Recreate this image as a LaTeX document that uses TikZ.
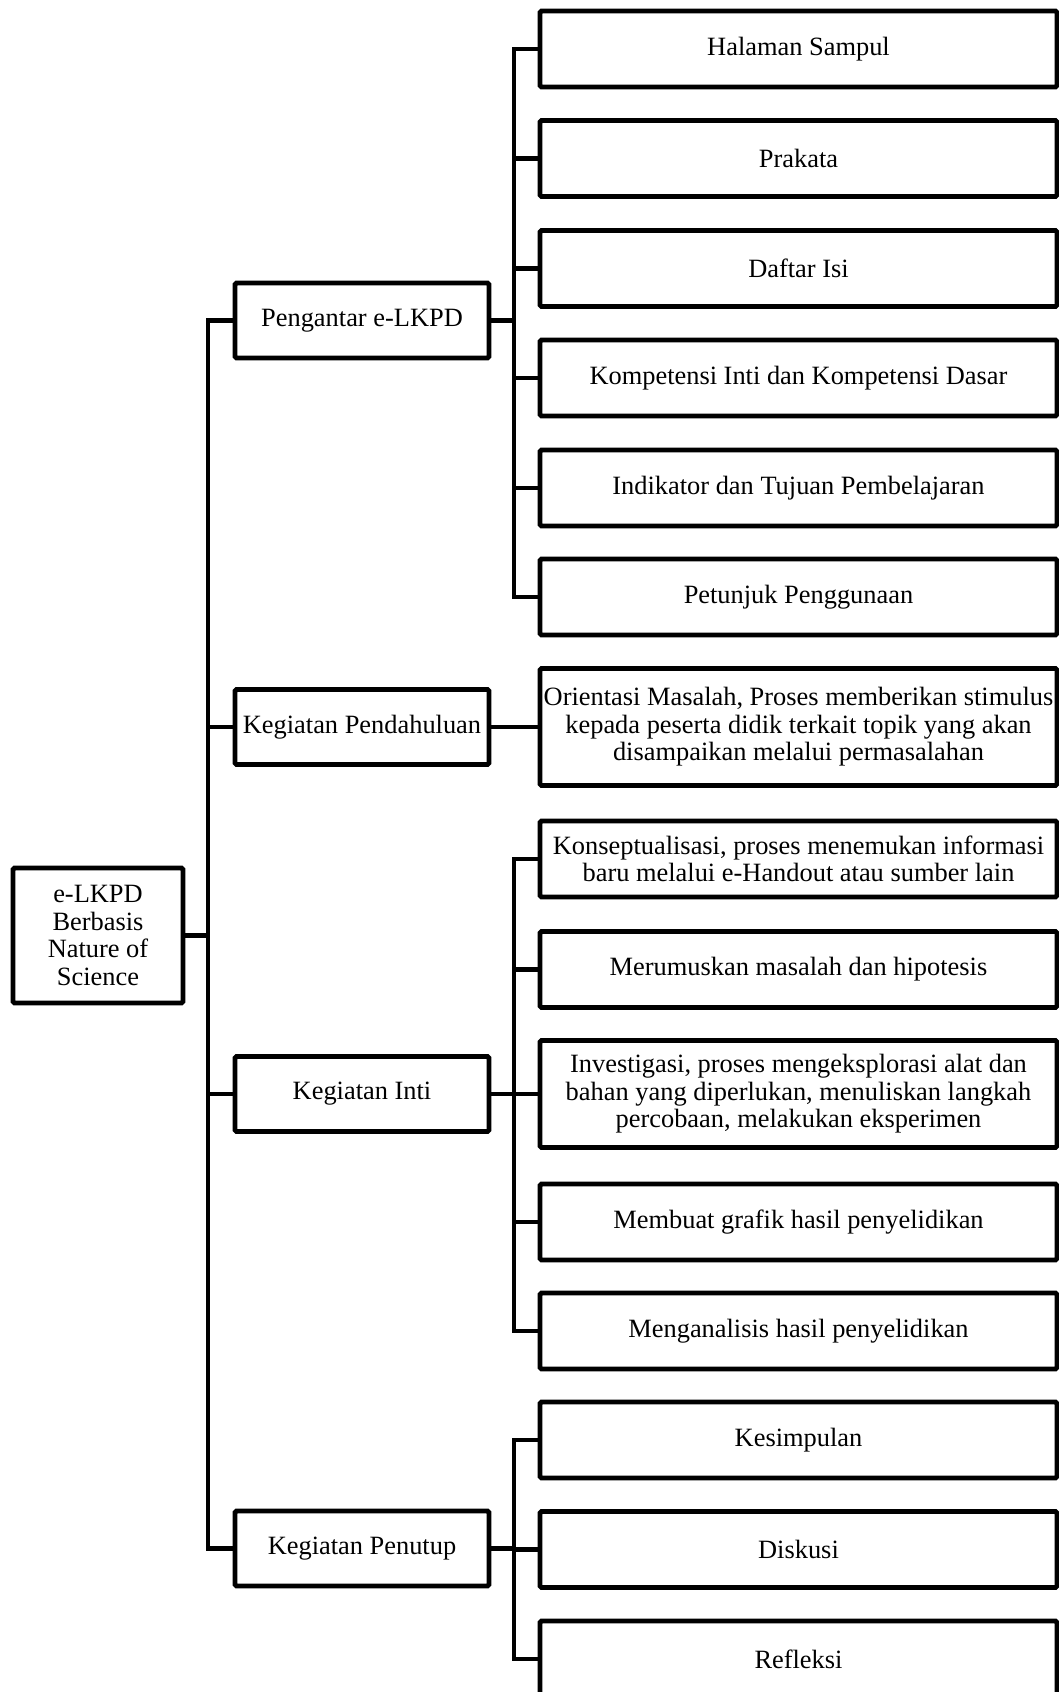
\documentclass[tikz,border=0pt]{standalone}
\usepackage{fontspec}
\setmainfont{Liberation Serif}
\begin{document}
\begin{tikzpicture}[x=0.5pt,y=-0.5pt,
  every node/.style={font=\fontsize{13.2}{13.8}\selectfont, align=center},
  box/.style={draw, line width=2.4pt, rounded corners=0.8pt},
  root/.style={box, minimum width=85pt, minimum height=67.5pt, inner sep=1pt},
  part/.style={box, minimum width=127pt, minimum height=37.5pt},
  entry/.style={box, minimum width=258.5pt, minimum height=38pt, inner xsep=1pt},
  link/.style={line width=2.4pt, line cap=rect}]
\useasboundingbox (0,0) rectangle (1059,1692);
% root and the four parts
\node[root] (elkpd) at (98,935.5) {e-LKPD\\Berbasis\\Nature of\\Science};
\node[part] (pengantar)   at (362,320.5)  {Pengantar e-LKPD};
\node[part] (pendahuluan) at (362,727)    {Kegiatan Pendahuluan};
\node[part] (inti)        at (362,1094)   {Kegiatan Inti};
\node[part] (penutup)     at (362,1548.5) {Kegiatan Penutup};
% entries of Pengantar e-LKPD
\node[entry] (sampul)     at (798.5,49)    {Halaman Sampul};
\node[entry] (prakata)    at (798.5,158.5) {Prakata};
\node[entry] (daftar)     at (798.5,268.5) {Daftar Isi};
\node[entry] (kompetensi) at (798.5,378)   {Kompetensi Inti dan Kompetensi Dasar};
\node[entry] (indikator)  at (798.5,488)   {Indikator dan Tujuan Pembelajaran};
\node[entry] (petunjuk)   at (798.5,597)   {Petunjuk Penggunaan};
% entry of Kegiatan Pendahuluan
\node[entry, minimum height=58.5pt] (orientasi) at (798.5,727)
  {Orientasi Masalah, Proses memberikan stimulus\\kepada peserta didik terkait topik yang akan\\disampaikan melalui permasalahan};
% entries of Kegiatan Inti
\node[entry] (konsep)     at (798.5,859)
  {Konseptualisasi, proses menemukan informasi\\baru melalui e-Handout atau sumber lain};
\node[entry] (rumusan)    at (798.5,969.5) {Merumuskan masalah dan hipotesis};
\node[entry, minimum height=53.5pt] (investigasi) at (798.5,1094)
  {Investigasi, proses mengeksplorasi alat dan\\bahan yang diperlukan, menuliskan langkah\\percobaan, melakukan eksperimen};
\node[entry] (grafik)     at (798.5,1222)  {Membuat grafik hasil penyelidikan};
\node[entry] (analisis)   at (798.5,1331)  {Menganalisis hasil penyelidikan};
% entries of Kegiatan Penutup
\node[entry] (simpulan)   at (798.5,1440)  {Kesimpulan};
\node[entry] (diskusi)    at (798.5,1549.5) {Diskusi};
\node[entry] (refleksi)   at (798.5,1659)  {Refleksi};
% connectors
\coordinate (trunk)  at (208,0);
\coordinate (branch) at (514,0);
\draw[link] (elkpd.east) -- (trunk |- elkpd.east);
\draw[link] (trunk |- pengantar.west) -- (trunk |- penutup.west);
\foreach \n in {pengantar,pendahuluan,inti,penutup}
  \draw[link] (trunk |- \n.west) -- (\n.west);
\draw[link] (pengantar.east) -- (branch |- pengantar.east);
\draw[link] (branch |- sampul.west) -- (branch |- petunjuk.west);
\foreach \n in {sampul,prakata,daftar,kompetensi,indikator,petunjuk}
  \draw[link] (branch |- \n.west) -- (\n.west);
\draw[link] (pendahuluan.east) -- (orientasi.west);
\draw[link] (inti.east) -- (branch |- inti.east);
\draw[link] (branch |- konsep.west) -- (branch |- analisis.west);
\foreach \n in {konsep,rumusan,investigasi,grafik,analisis}
  \draw[link] (branch |- \n.west) -- (\n.west);
\draw[link] (penutup.east) -- (branch |- penutup.east);
\draw[link] (branch |- simpulan.west) -- (branch |- refleksi.west);
\foreach \n in {simpulan,diskusi,refleksi}
  \draw[link] (branch |- \n.west) -- (\n.west);
\end{tikzpicture}
\end{document}
